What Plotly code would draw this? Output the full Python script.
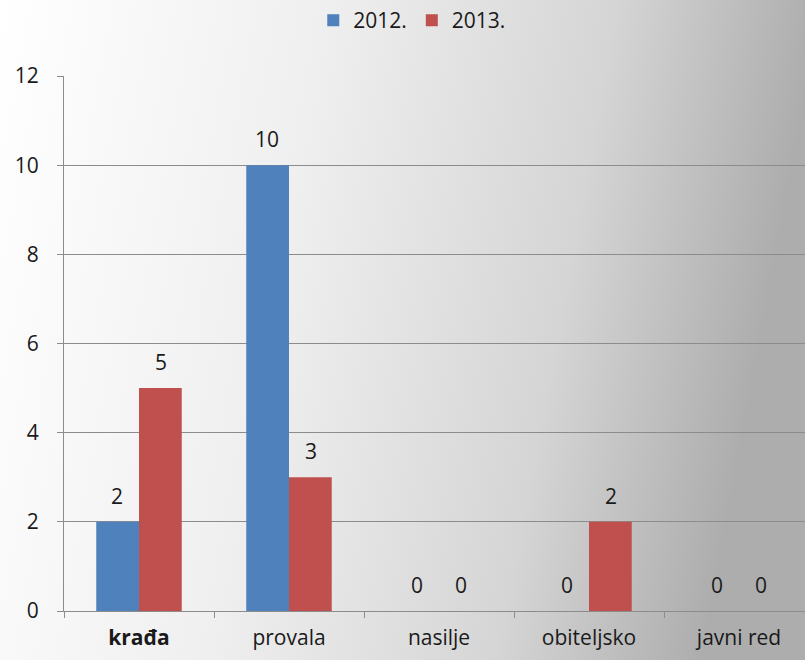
import plotly.graph_objects as go

categories = ["krađa", "provala", "nasilje", "obiteljsko", "javni red"]
category_labels = ["<b>krađa</b>", "provala", "nasilje", "obiteljsko", "javni red"]
series_2012 = [2, 10, 0, 0, 0]
series_2013 = [5, 3, 0, 2, 0]
y_ticks = [0, 2, 4, 6, 8, 10, 12]

blue = "#4f81bd"
red = "#c0504d"
font = "Open Sans, Liberation Sans, sans-serif"

fig = go.Figure()
fig.add_trace(go.Bar(name="2012.", x=categories, y=series_2012, marker_color=blue,
                     marker_line_width=0))
fig.add_trace(go.Bar(name="2013.", x=categories, y=series_2013, marker_color=red,
                     marker_line_width=0))

# value labels
annots = []
for i, (a, b) in enumerate(zip(series_2012, series_2013)):
    for val, off in ((a, -0.145), (b, 0.145)):
        annots.append(dict(x=i + off, y=val, xref="x", yref="y", text=str(val),
                           showarrow=False, yshift=26,
                           font=dict(size=21, color="#1a1a1a", family=font)))

svg = ("data:image/svg+xml;utf8,<svg xmlns='http://www.w3.org/2000/svg' width='805' height='660'>"
       "<defs><linearGradient id='g' x1='0' y1='0' x2='1' y2='0.15'>"
       "<stop offset='0' stop-color='%23ffffff'/><stop offset='0.4' stop-color='%23efefef'/>"
       "<stop offset='0.75' stop-color='%23d5d5d5'/><stop offset='1' stop-color='%23adadad'/>"
       "</linearGradient></defs><rect width='805' height='660' fill='url(%23g)'/></svg>")

fig.update_layout(
    width=805, height=660,
    margin=dict(l=64, r=0, t=76, b=49),
    paper_bgcolor="rgba(0,0,0,0)", plot_bgcolor="rgba(0,0,0,0)",
    barmode="group", bargap=0.43, bargroupgap=0,
    font=dict(family=font, size=18, color="#1a1a1a"),
    showlegend=True,
    legend=dict(orientation="h", x=0.47, xanchor="center", y=1.0, yref="container",
                yanchor="top", font=dict(size=21), itemwidth=30, bgcolor="rgba(0,0,0,0)"),
    annotations=annots,
    images=[dict(source=svg, xref="paper", yref="paper", x=-64/741, y=1 + 76/535,
                 sizex=805/741, sizey=660/535, xanchor="left", yanchor="top",
                 sizing="stretch", layer="below")],
    xaxis=dict(range=[-0.5, 4.44], tickson="boundaries", ticks="outside", ticklen=6,
               tickcolor="#8c8c8c", showline=True, linecolor="#8c8c8c", linewidth=1,
               showgrid=False, tickfont=dict(size=21, color="#1a1a1a"),
               ticklabelstandoff=8,
               tickmode="array", tickvals=categories, ticktext=category_labels),
    yaxis=dict(range=[0, 12], tickvals=y_ticks, ticks="outside", ticklen=6,
               tickcolor="#8c8c8c", showline=True, linecolor="#8c8c8c", linewidth=1,
               showgrid=True, gridcolor="#8c8c8c", gridwidth=1, zeroline=False,
               ticklabelstandoff=14, tickfont=dict(size=21)),
)
fig.write_html("out.html", config={"displayModeBar": False},
               post_script="document.body.style.margin='0';")
